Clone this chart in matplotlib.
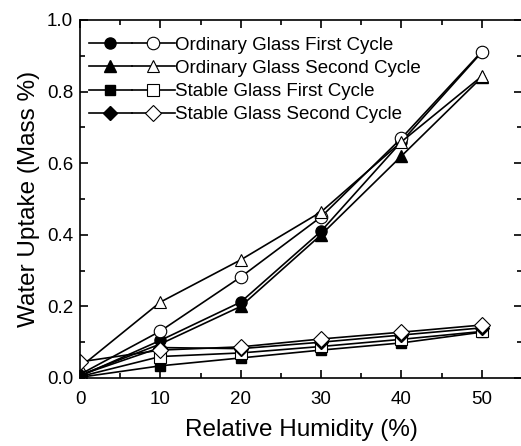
import numpy as np
import matplotlib.pyplot as plt
from matplotlib.legend_handler import HandlerTuple
from matplotlib.ticker import MultipleLocator

plt.rcParams['font.family'] = ['Liberation Sans', 'DejaVu Sans']

rh = [0, 10, 20, 30, 40, 50]

# filled = adsorption, open = desorption
ord1_fill = [0.005, 0.105, 0.212, 0.41, 0.66, 0.91]
ord1_open = [0.01, 0.131, 0.282, 0.45, 0.67, 0.912]
ord2_fill = [0.008, 0.095, 0.20, 0.40, 0.62, 0.84]
ord2_open = [0.03, 0.212, 0.33, 0.464, 0.66, 0.843]
sta1_fill = [0.002, 0.034, 0.056, 0.078, 0.098, 0.128]
sta1_open = [0.004, 0.06, 0.07, 0.088, 0.108, 0.13]
sta2_fill = [0.008, 0.085, 0.082, 0.10, 0.12, 0.14]
sta2_open = [0.045, 0.078, 0.087, 0.109, 0.128, 0.148]

labels = ['Ordinary Glass First Cycle', 'Ordinary Glass Second Cycle',
          'Stable Glass First Cycle', 'Stable Glass Second Cycle']
markers = ['o', '^', 's', 'D']
ms = [8, 8, 7.5, 7.5]

fig = plt.figure(figsize=(5.21, 4.46), dpi=100)
ax = fig.add_axes([80/521, 68/446, 442/521, 358/446])

pairs = [(ord1_fill, ord1_open), (ord2_fill, ord2_open),
         (sta1_fill, sta1_open), (sta2_fill, sta2_open)]
handles = []
for (f, o), m, s in zip(pairs, markers, ms):
    h1, = ax.plot(rh, f, color='black', lw=1.2, marker=m, ms=s,
                  mfc='black', mec='black')
    h2, = ax.plot(rh, o, color='black', lw=1.2, marker=m, ms=s + 1,
                  mfc='white', mec='black', mew=0.8)
    handles.append((h1, h2))

leg = ax.legend(handles, labels, handler_map={tuple: HandlerTuple(ndivide=None, pad=0)},
                loc='upper left', bbox_to_anchor=(-0.01, 0.99), frameon=False,
                handlelength=4.6, handletextpad=0, labelspacing=0.32,
                fontsize=13.5, borderaxespad=0.3)

ax.set_xlim(0, 55)
ax.set_ylim(0, 1.0)
ax.xaxis.set_major_locator(MultipleLocator(10))
ax.xaxis.set_minor_locator(MultipleLocator(5))
ax.yaxis.set_major_locator(MultipleLocator(0.2))
ax.yaxis.set_minor_locator(MultipleLocator(0.1))
ax.set_xticks([0, 10, 20, 30, 40, 50])
ax.tick_params(which='both', direction='in', top=True, right=True, labelsize=13.5, width=1.2)
ax.tick_params(which='major', length=6)
ax.tick_params(which='minor', length=3.5)
ax.tick_params(axis='x', which='major', pad=9)
ax.tick_params(axis='y', which='major', pad=5)
for sp in ax.spines.values():
    sp.set_linewidth(1.2)

ax.set_xlabel('Relative Humidity (%)', fontsize=17.5, labelpad=8)
ax.set_ylabel('Water Uptake (Mass %)', fontsize=17.5, labelpad=5)

fig.savefig('out.png', dpi=100)
